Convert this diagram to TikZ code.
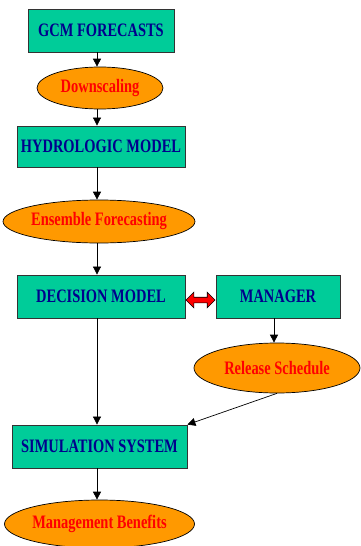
\documentclass[tikz,border=0pt]{standalone}
\usepackage{fontspec}
\newfontfamily\lbl[FakeStretch=0.76]{Liberation Serif}
\usetikzlibrary{shapes.geometric,shapes.arrows,arrows.meta,calc}
\definecolor{boxfill}{RGB}{0,204,153}
\definecolor{boxtext}{RGB}{0,0,140}
\definecolor{ovalfill}{RGB}{255,153,0}
\definecolor{ovaltext}{RGB}{255,0,0}
\begin{document}
\begin{tikzpicture}[x=1pt,y=-1pt,
  lblfont/.style={font=\lbl\bfseries\fontsize{19}{22}\selectfont},
  boxnode/.style={rectangle, draw=black!80, line width=0.8pt, fill=boxfill, text=boxtext, lblfont, inner sep=0pt, minimum height=43pt},
  ovalnode/.style={ellipse, draw=black, line width=0.7pt, fill=ovalfill, text=ovaltext, lblfont, inner sep=0pt},
  arr/.style={-{Triangle[length=8pt,width=8pt]}, line width=0.7pt, black},
  twoway/.style={double arrow, draw=black, line width=0.6pt, fill=red, inner sep=2.5pt, double arrow head extend=5pt, minimum height=29pt}]
\useasboundingbox (0,0) rectangle (360,546);
\coordinate (sp) at (97,0);
\coordinate (msp) at (274,0);
\node[boxnode, minimum width=146pt] (gcm) at (101,30.5) {GCM FORECASTS};
\node[ovalnode, minimum width=126pt, minimum height=42pt] (down) at (100,88) {Downscaling};
\node[boxnode, minimum width=168pt, minimum height=41pt] (hyd) at (101,146.5) {HYDROLOGIC MODEL};
\node[ovalnode, minimum width=174pt, minimum height=43pt] (ens) at (99,221.5) {Ensemble Forecasting};
\node[boxnode, minimum width=168pt] (dec) at (101,296.5) {DECISION MODEL};
\node[boxnode, minimum width=124pt] (man) at (278,296.5) {MANAGER};
\node[ovalnode, minimum width=166pt, minimum height=50pt] (rel) at (277,368) {Release Schedule};
\node[boxnode, minimum width=175pt] (sim) at (99.5,446.5) {SIMULATION SYSTEM};
\node[ovalnode, minimum width=175pt, minimum height=48pt] (ben) at (99.5,524) {Management Benefits};
\node[twoway] (link) at ($(dec.east)!0.5!(man.west)+(0,3.5)$) {};
\draw[arr] (gcm.south -| sp) -- (down.north -| sp);
\draw[arr] (down.south -| sp) -- (hyd.north -| sp);
\draw[arr] (hyd.south -| sp) -- (ens.north -| sp);
\draw[arr] (ens.south -| sp) -- (dec.north -| sp);
\draw[arr] (dec.south -| sp) -- (sim.north -| sp);
\draw[arr] (sim.south -| sp) -- (ben.north -| sp);
\draw[arr] (man.south -| msp) -- (rel.north -| msp);
\draw[arr] (rel.south) -- (sim.north east);
\end{tikzpicture}
\end{document}
